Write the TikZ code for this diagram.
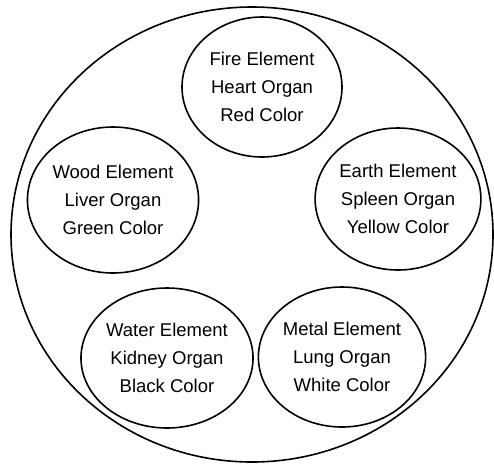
\documentclass[tikz,border=0pt]{standalone}
\usepackage{fontspec}
\setmainfont{Liberation Sans}
\usetikzlibrary{shapes.geometric}
\begin{document}
\begin{tikzpicture}[x=1pt,y=-1pt,
  organ/.style={draw=black, line width=1.6pt, ellipse, inner sep=0pt, align=center,
    font=\fontsize{18.5}{28}\selectfont, text depth=0pt},
  outer/.style={draw=black, line width=1.6pt, ellipse, inner sep=0pt}]
\useasboundingbox (0,0) rectangle (494,464);
\node[outer, minimum width=482pt, minimum height=455pt] (big) at (252,234.5) {};
\node[organ, minimum width=160pt, minimum height=140pt] (fire) at (262,87) {Fire Element\\Heart Organ\\Red Color};
\node[organ, minimum width=156pt, minimum height=146pt] (wood) at (113,200) {Wood Element\\Liver Organ\\Green Color};
\node[organ, minimum width=148pt, minimum height=142pt] (earth) at (398,199) {Earth Element\\Spleen Organ\\Yellow Color};
\node[organ, minimum width=150pt, minimum height=140pt] (water) at (167,358) {Water Element\\Kidney Organ\\Black Color};
\node[organ, minimum width=150pt, minimum height=140pt] (metal) at (342,357) {Metal Element\\Lung Organ\\White Color};
\end{tikzpicture}
\end{document}
